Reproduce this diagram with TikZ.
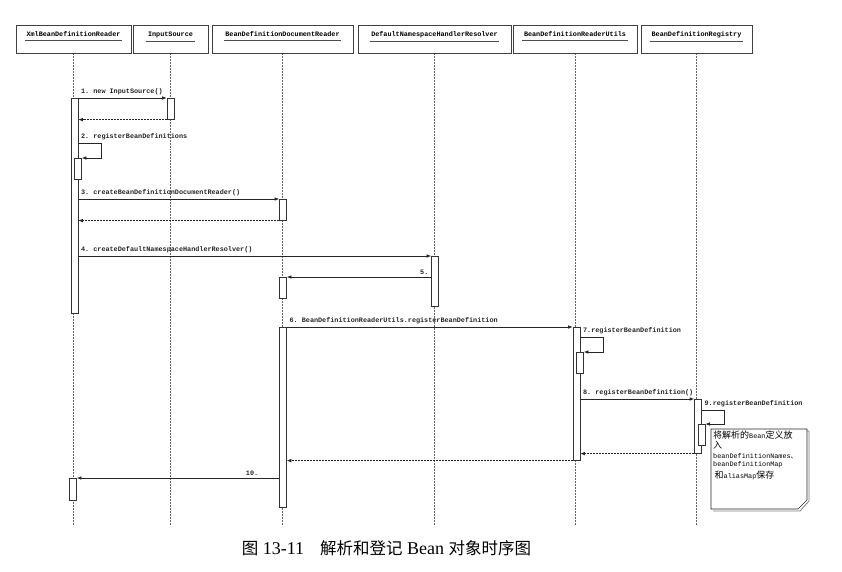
\documentclass[tikz,border=0pt]{standalone}
\usepackage{fontspec}
\setmainfont{Liberation Serif}
\setmonofont{Liberation Mono}
\newfontfamily\cjk{Noto Sans CJK SC}
\usetikzlibrary{arrows.meta}
\newcommand\zh[1]{{\cjk\fontsize{16.5}{20}\selectfont#1}}
\tikzset{
  head/.style={draw=black!75, line width=1pt, minimum height=28pt, inner sep=0pt},
  headlbl/.style={font=\fontsize{6.8}{8}\ttfamily\bfseries, inner xsep=1.5pt, inner ysep=3pt, anchor=north},
  life/.style={draw=black!60, densely dotted, line width=0.5pt},
  act/.style={draw=black!80, fill=white, line width=0.6pt, minimum width=7pt, inner sep=0pt, anchor=north},
  msg/.style={-{Latex[length=4.5pt,width=3.5pt]}, line width=0.6pt, draw=black!85},
  ret/.style={msg, dash pattern=on 2pt off 1pt},
  lbl/.style={font=\fontsize{6.8}{8}\ttfamily\bfseries, inner sep=2.5pt, text=black!85}
}
\begin{document}
\begin{tikzpicture}[x=1pt, y=-1pt]
  \useasboundingbox (0,0) rectangle (842,572);
  \foreach \n/\x/\w/\t in {hXml/73.5/115/XmlBeanDefinitionReader, hIn/170.5/75/InputSource,
      hDoc/282.5/141/BeanDefinitionDocumentReader, hNs/434.5/153/DefaultNamespaceHandlerResolver,
      hUtil/575/124/BeanDefinitionReaderUtils, hReg/696.5/111/BeanDefinitionRegistry}{
    \node[head, minimum width=\w] (\n) at (\x,40) {};
    \node[headlbl] (\n-t) at ([yshift=-3pt]\n.north) {\t};
    \draw[black!70] (\n-t.south west) -- (\n-t.south east);
    \draw[life] (\n.south) -- ++(0,471);
  }

  \node[act, minimum height=215] (xr1) at (74.5,98) {};
  \node[act, minimum height=21] (xr2) at (78,158) {};
  \node[act, minimum height=22] (xr3) at (73,478) {};
  \node[act, minimum height=21] (is1) at (170.5,98) {};
  \node[act, minimum height=21] (dr1) at (283,199) {};
  \node[act, minimum height=21] (dr2) at (283,277) {};
  \node[act, minimum height=180] (dr3) at (283,327) {};
  \node[act, minimum height=50] (nr1) at (435,256) {};
  \node[act, minimum height=133] (ru1) at (576.5,327) {};
  \node[act, minimum height=21] (ru2) at (580,352) {};
  \node[act, minimum height=54] (rg1) at (698,399) {};
  \node[act, minimum height=21] (rg2) at (701.5,424) {};

  \coordinate (s2) at (0,143);
  \coordinate (s7) at (0,337);
  \coordinate (s9) at (0,410);

  \draw[msg] (xr1.north east) -- node[lbl, pos=0, anchor=south west] {1. new InputSource()} (is1.north west);
  \draw[ret] (is1.south west) -- (is1.south west -| xr1.east);
  \draw[msg] (s2 -| xr1.east) node[lbl, anchor=south west] {2. registerBeanDefinitions} -- ++(23,0) |- (xr2.north east);
  \draw[msg] (xr1.east |- dr1.north) -- node[lbl, pos=0, anchor=south west] {3. createBeanDefinitionDocumentReader()} (dr1.north west);
  \draw[ret] (dr1.south west) -- (dr1.south west -| xr1.east);
  \draw[msg] (xr1.east |- nr1.north) -- node[lbl, pos=0, anchor=south west] {4. createDefaultNamespaceHandlerResolver()} (nr1.north west);
  \draw[msg] (nr1.west |- dr2.north) -- node[lbl, pos=0, anchor=south east] {5.} (dr2.north east);
  \draw[msg] (dr3.north east) -- node[lbl, pos=0, anchor=south west] {6. BeanDefinitionReaderUtils.registerBeanDefinition} (ru1.north west);
  \draw[msg] (s7 -| ru1.east) node[lbl, anchor=south west] {7.registerBeanDefinition} -- ++(23,0) |- (ru2.north east);
  \draw[msg] (ru1.east |- rg1.north) -- node[lbl, pos=0, anchor=south west] {8. registerBeanDefinition()} (rg1.north west);
  \draw[msg] (s9 -| rg1.east) node[lbl, anchor=south west] {9.registerBeanDefinition} -- ++(22,0) |- (rg2.north east);
  \draw[ret] (rg1.south west) -- (rg1.south west -| ru1.east);
  \draw[ret] (ru1.south west) -- (ru1.south west -| dr3.east);
  \draw[msg] (dr3.west |- xr3.north) -- node[lbl, pos=0.09, anchor=south east] {10.} (xr3.north east);

  \draw[black!50, line width=0.8pt] (713,431) -- (809,431) -- (809,501) -- (800,511) -- (713,511);
  \draw[black!85, fill=white, line width=0.6pt] (711,429) -- (807,429) -- (807,500) -- (798,509) -- (711,509) -- cycle;
  \node[anchor=north west, align=left, inner sep=0pt,
    font={\fontsize{6.8}{12}\ttfamily\lineskiplimit=-20pt}] (note) at (713,431)
    {{\cjk\fontsize{9}{12}\selectfont 将解析的}Bean{\cjk\fontsize{9}{12}\selectfont 定义放}\\[-2pt]
     {\cjk\fontsize{9}{12}\selectfont 入}\\[-2pt]
     beanDefinitionNames{\cjk 、}\\[-4pt]
     beanDefinitionMap\\
     {\cjk\fontsize{9}{12}\selectfont\,和}aliasMap{\cjk\fontsize{9}{12}\selectfont 保存}};

  \node[font=\fontsize{18}{20}\selectfont, inner sep=0pt] (cap) at (386.5,548)
    {\zh{图} 13-11\hspace{16pt}\zh{解析和登记} Bean \zh{对象时序图}};
\end{tikzpicture}
\end{document}
